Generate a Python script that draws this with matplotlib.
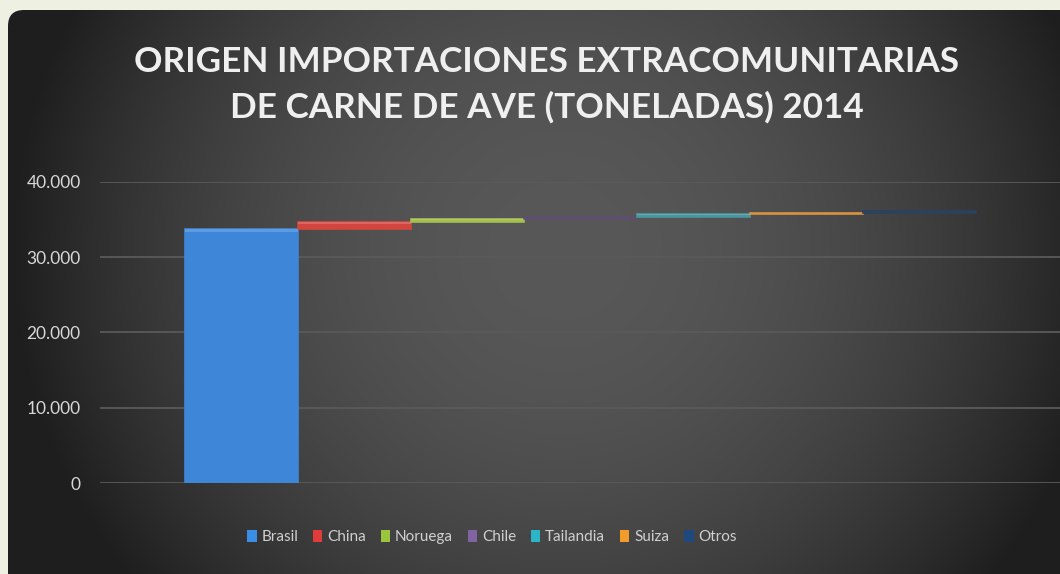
import numpy as np
import matplotlib
matplotlib.use("Agg")
import matplotlib.pyplot as plt
from matplotlib.patches import FancyBboxPatch, Patch
from matplotlib.ticker import FuncFormatter

# datos (toneladas) - gráfico en cascada
paises = ["Brasil", "China", "Noruega", "Chile", "Tailandia", "Suiza", "Otros"]
toneladas = [33800, 950, 350, 300, 350, 150, 300]
colores_barra = ["#3d86d8", "#d2463f", "#a3bf4e", "#5e4f6e", "#4a96a0", "#d9923e", "#2c415f"]
colores_leyenda = ["#3a8ee6", "#e03c3c", "#9bc53d", "#8064a2", "#2bb5c8", "#f39c2b", "#1f497d"]
yticks = [0, 10000, 20000, 30000, 40000]
titulo = ["ORIGEN IMPORTACIONES EXTRACOMUNITARIAS", "DE CARNE DE AVE (TONELADAS) 2014"]

W, H = 1060, 574
fig = plt.figure(figsize=(W / 100, H / 100), dpi=100)
fig.patch.set_facecolor("#eef0e1")

# fondo con degradado radial
bg = fig.add_axes([0, 0, 1, 1])
bg.set_xlim(0, W)
bg.set_ylim(H, 0)
bg.axis("off")
xx, yy = np.meshgrid(np.arange(W), np.arange(H))
r2 = ((xx - 560) / 540.0) ** 2 + ((yy - 250) / 520.0) ** 2
val = np.clip(88 - 56 * r2, 30, 90) / 255.0
img = np.dstack([val, val, val])
panel = FancyBboxPatch((8, 10), W + 40, H + 40, boxstyle="round,pad=0,rounding_size=16",
                       transform=bg.transData, facecolor="none", edgecolor="none")
bg.add_patch(panel)
im = bg.imshow(img, extent=(0, W, H, 0), interpolation="bilinear", zorder=0)
im.set_clip_path(panel)

# título
for i, linea in enumerate(titulo):
    fig.text(547 / W, 1 - (62 + 45 * i) / H, linea, ha="center", va="center",
             fontsize=25.3, fontweight="bold", family="Lato", color="#efefef")

# gráfico
ax = fig.add_axes([100 / W, (H - 483) / H, 960 / W, (483 - 182) / H])
ax.set_facecolor("none")
for s in ax.spines.values():
    s.set_visible(False)

base = np.concatenate([[0], np.cumsum(toneladas)[:-1]])
x = np.arange(len(paises))
ax.bar(x, toneladas, bottom=base, width=1.0, color=colores_barra,
       edgecolor=colores_barra, linewidth=1.2, zorder=3)
# brillo superior de la barra
brillo = [500 if t > 5000 else t * 0.35 for t in toneladas]
ax.bar(x, brillo, bottom=[b + t - g for b, t, g in zip(base, toneladas, brillo)],
       width=1.0, color="white", alpha=0.18, linewidth=0, zorder=4)

ax.set_ylim(0, 40000)
ax.set_xlim(-1.25, -1.25 + 960 / 113)
ax.set_xticks([])
ax.set_yticks(yticks)
ax.yaxis.set_major_formatter(FuncFormatter(lambda v, p: f"{int(v):,}".replace(",", ".")))
ax.tick_params(axis="y", length=0, pad=14, labelsize=12.5, labelcolor="#d8d8d8")
for t in ax.get_yticklabels():
    t.set_family("Lato")
ax.grid(axis="y", color="#5a5a5a", linewidth=1.3, zorder=0)

handles = [Patch(facecolor=c, edgecolor="none") for c in colores_leyenda]
leg = fig.legend(handles, paises, loc="center", bbox_to_anchor=(492 / W, 1 - 537 / H),
                 ncol=7, frameon=False, handlelength=0.6, handleheight=0.8,
                 handletextpad=0.3, columnspacing=1.0,
                 prop={"family": "Lato", "size": 11})
for t in leg.get_texts():
    t.set_color("#d0d0d0")

fig.savefig("out.png", dpi=100)
